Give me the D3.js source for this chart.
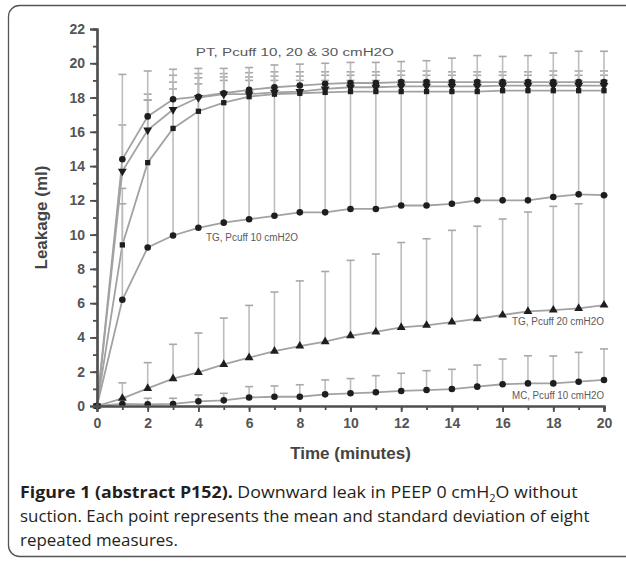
<!DOCTYPE html>
<html><head><meta charset="utf-8">
<script src="https://cdn.jsdelivr.net/npm/d3@7"></script>
<style>
html,body{margin:0;padding:0;background:#fff;}
svg{display:block;}
</style></head>
<body>
<svg id="chart" width="626" height="562"></svg>
<script>
// ---- data ----
const times = [0,1,2,3,4,5,6,7,8,9,10,11,12,13,14,15,16,17,18,19,20];
const xTicks = [0,2,4,6,8,10,12,14,16,18,20];
const yTicks = [0,2,4,6,8,10,12,14,16,18,20,22];

const ptA = [0,14.4,16.9,17.9,18.05,18.25,18.45,18.6,18.7,18.8,18.85,18.85,18.9,18.9,18.9,18.9,18.9,18.9,18.9,18.9,18.9];
const ptA_sd = [0,2.0,1.3,1.0,1.35,1.15,1.0,0.9,0.8,0.7,0.65,0.65,0.65,0.65,0.6,0.6,0.6,0.6,0.65,0.65,0.65];
const ptB = [0,13.7,16.1,17.3,18.0,18.2,18.2,18.3,18.35,18.5,18.6,18.6,18.65,18.65,18.65,18.65,18.7,18.7,18.7,18.7,18.7];
const ptB_sd = [0,5.65,3.45,2.0,1.15,1.0,1.0,0.95,0.9,0.8,0.7,0.7,0.65,0.65,0.65,0.65,0.6,0.6,0.6,0.6,0.6];
const ptC = [0,9.4,14.2,16.2,17.2,17.7,18.05,18.2,18.25,18.3,18.35,18.35,18.35,18.35,18.35,18.35,18.4,18.4,18.4,18.4,18.4];
const ptC_sd = [0,3.3,3.65,2.3,1.6,1.3,0.95,0.8,0.75,0.7,0.65,0.65,0.65,0.65,0.65,0.65,0.6,0.6,0.6,0.6,0.6];
const tg10 = [0,6.2,9.25,9.95,10.4,10.7,10.9,11.1,11.3,11.3,11.5,11.5,11.7,11.7,11.8,12.0,12.0,12.0,12.2,12.35,12.3];
const tg10_sd = [0,5.6,8.6,9.7,9.3,9.0,8.85,8.8,8.65,8.7,8.55,8.55,8.4,8.45,8.5,8.45,8.4,8.45,8.4,8.35,8.4];
const tg20 = [0,0.45,1.03,1.6,1.96,2.43,2.82,3.2,3.5,3.75,4.1,4.32,4.59,4.71,4.9,5.09,5.31,5.52,5.6,5.7,5.89];
const tg20_sd = [0,0.9,1.5,2.0,2.3,2.7,3.05,3.45,3.8,4.1,4.4,4.55,4.95,5.05,5.35,5.4,5.6,5.8,6.05,6.1,6.4];
const mc10 = [0,0.12,0.1,0.12,0.27,0.33,0.5,0.54,0.54,0.68,0.74,0.8,0.88,0.93,0.99,1.13,1.27,1.32,1.32,1.42,1.52];
const mc10_sd = [0,0.3,0.35,0.33,0.37,0.41,0.63,0.63,0.7,0.84,0.86,0.97,1.03,1.13,1.15,1.26,1.47,1.61,1.6,1.71,1.81];

const seriesNames = ["PT Pcuff 30","PT Pcuff 20","PT Pcuff 10","TG Pcuff 10","TG Pcuff 20","MC Pcuff 10"];
const seriesMeans = [ptA, ptB, ptC, tg10, tg20, mc10];
const seriesSD = [ptA_sd, ptB_sd, ptC_sd, tg10_sd, tg20_sd, mc10_sd];
const seriesSymbols = [d3.symbolCircle, d3.symbolTriangle, d3.symbolSquare, d3.symbolCircle, d3.symbolTriangle, d3.symbolCircle];
const seriesRotate = [0, 180, 0, 0, 0, 0];

const annotations = [
  {text:"PT, Pcuff 10, 20 & 30 cmH2O", t:3.9, v:20.45, anchor:"start", width:198},
  {text:"TG, Pcuff 10 cmH2O", t:4.3, v:9.65, anchor:"start", width:92},
  {text:"TG, Pcuff 20 cmH2O", t:20, v:4.7, anchor:"end", width:92},
  {text:"MC, Pcuff 10 cmH2O", t:20, v:0.42, anchor:"end", width:92}
];
const captionBold = "Figure 1 (abstract P152).";
const captionLines = [
  [" Downward leak in PEEP 0 cmH", "2", "O without"],
  ["suction. Each point represents the mean and standard deviation of eight"],
  ["repeated measures."]
];

// ---- drawing ----
const svg = d3.select("#chart");
const x = d3.scaleLinear().domain([0,20]).range([97,604]);
const y = d3.scaleLinear().domain([0,22]).range([406,29]);

// outer rounded frame
svg.append("rect").attr("x",8.5).attr("y",5.5).attr("width",640).attr("height",551)
  .attr("rx",11).attr("fill","none").attr("stroke","#555").attr("stroke-width",1.3);

const g = svg.append("g");
const lineGen = d3.line().x((d,i)=>x(times[i])).y(d=>y(d));

// lines
seriesMeans.forEach(m=>{
  g.append("path").datum(m).attr("d",lineGen)
   .attr("fill","none").attr("stroke","#a2a2a2").attr("stroke-width",1.8);
});

// error bars (upper)
seriesMeans.forEach((m,si)=>{
  const sd = seriesSD[si];
  const eg = g.append("g");
  times.forEach((t,i)=>{
    if (i===0) return;
    const x0 = x(t), y0 = y(m[i]), y1 = y(m[i]+sd[i]);
    eg.append("line").attr("x1",x0).attr("x2",x0).attr("y1",y0).attr("y2",y1)
      .attr("stroke","#bdbdbd").attr("stroke-width",1.6);
    eg.append("line").attr("x1",x0-4).attr("x2",x0+4).attr("y1",y1).attr("y2",y1)
      .attr("stroke","#a8a8a8").attr("stroke-width",1.6);
  });
});

// markers
seriesMeans.forEach((m,si)=>{
  const sym = d3.symbol().type(seriesSymbols[si]).size(seriesSymbols[si]===d3.symbolSquare?28:34);
  g.append("g").selectAll("path").data(m).join("path")
    .attr("d",sym)
    .attr("transform",(d,i)=>`translate(${x(times[i])},${y(d)}) rotate(${seriesRotate[si]})`)
    .attr("fill","#1e1e1e");
});

// axes
const axisColor = "#4f4f4f";
const yMinor = d3.axisLeft(y).tickValues(d3.range(0,23,1)).tickSize(4).tickFormat("");
const yMajor = d3.axisLeft(y).tickValues(yTicks).tickSize(7).tickPadding(5);
const xMinor = d3.axisBottom(x).tickValues(d3.range(0,21,1)).tickSize(4).tickFormat("");
const xMajor = d3.axisBottom(x).tickValues(xTicks).tickSize(6).tickPadding(6);

function styleAxis(sel){
  sel.selectAll("path,line").attr("stroke",axisColor).attr("stroke-width",1.8);
  sel.select(".domain").attr("stroke-width",2.2);
  sel.selectAll("text").attr("fill","#555").style("font-family","'Liberation Sans', Arial, sans-serif")
     .style("font-size","14px").style("font-weight","bold");
}
svg.append("g").attr("transform","translate(97,0)").call(yMinor).call(styleAxis);
svg.append("g").attr("transform","translate(97,0)").call(yMajor).call(styleAxis);
svg.append("g").attr("transform","translate(0,406)").call(xMinor).call(styleAxis);
svg.append("g").attr("transform","translate(0,406)").call(xMajor).call(styleAxis);

// axis titles
svg.append("text").attr("x",x(10)).attr("y",459).attr("text-anchor","middle")
  .attr("fill","#444").style("font-family","'Liberation Sans', Arial, sans-serif")
  .style("font-size","17px").style("font-weight","bold").text("Time (minutes)");
svg.append("text").attr("transform",`translate(47,${y(11)}) rotate(-90)`).attr("text-anchor","middle")
  .attr("fill","#444").style("font-family","'Liberation Sans', Arial, sans-serif")
  .style("font-size","17px").style("font-weight","bold").text("Leakage (ml)");

// annotations
annotations.forEach(a=>{
  svg.append("text").attr("x",x(a.t)).attr("y",y(a.v)).attr("text-anchor",a.anchor)
   .attr("fill","#5a5a5a").style("font-family","'Liberation Sans', Arial, sans-serif")
   .style("font-size","10px").attr("textLength",a.width).attr("lengthAdjust","spacingAndGlyphs")
   .text(a.text);
});

// caption (condensed horizontally to mimic the narrow original typeface)
const capFont = "'Open Sans', 'Noto Sans', sans-serif";
const capSize = 16.5;
function capLine(yPos){
  return svg.append("g").append("text").attr("x",0).attr("y",yPos)
    .style("font-family",capFont).style("font-size",capSize+"px").attr("fill","#231f20");
}
const l1 = capLine(498);
l1.append("tspan").style("font-weight","bold").text(captionBold);
l1.append("tspan").text(captionLines[0][0]);
l1.append("tspan").attr("dy",4).style("font-size",(capSize*0.62)+"px").text(captionLines[0][1]);
l1.append("tspan").attr("dy",-4).text(captionLines[0][2]);
const l2 = capLine(522).text(captionLines[1][0]);
const l3 = capLine(546).text(captionLines[2][0]);
const sx = 570 / l2.node().getComputedTextLength();
const sx1 = 558 / l1.node().getComputedTextLength();
l1.node().parentNode.setAttribute("transform",`translate(20,0) scale(${sx1},1)`);
l2.node().parentNode.setAttribute("transform",`translate(20,0) scale(${sx},1)`);
l3.node().parentNode.setAttribute("transform",`translate(20,0) scale(${sx},1)`);
</script>
</body></html>
